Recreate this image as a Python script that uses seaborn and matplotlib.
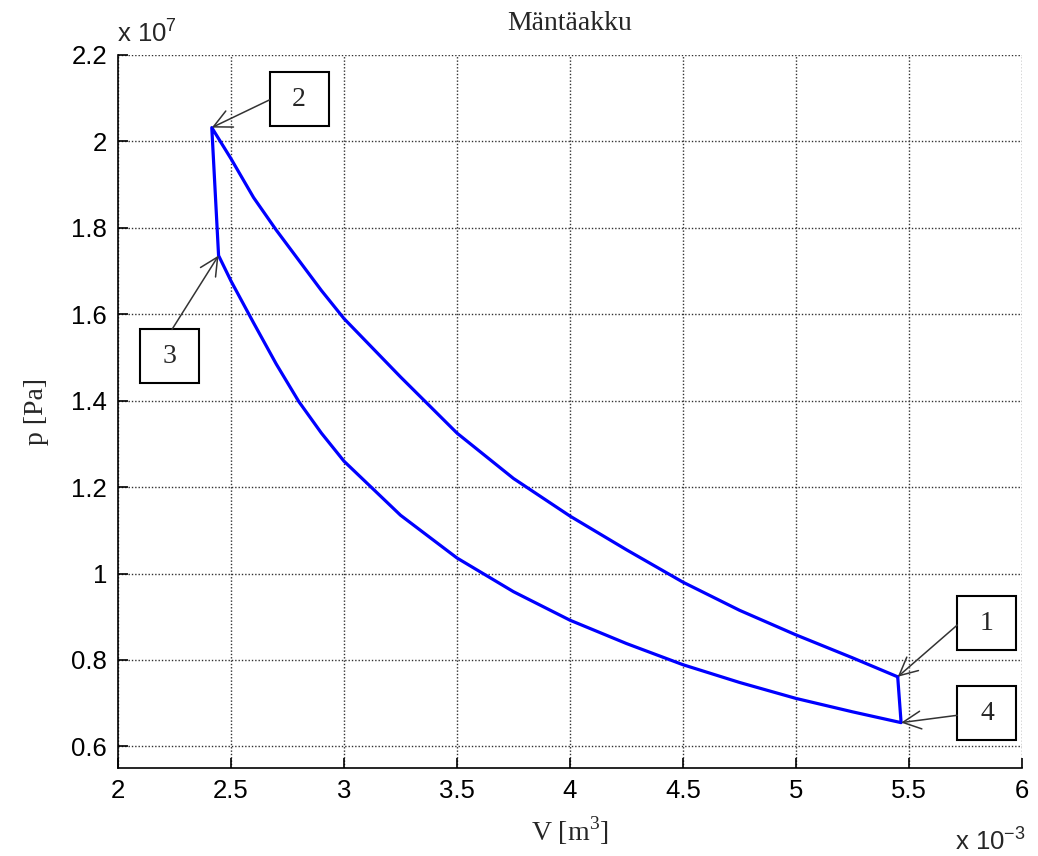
import matplotlib
matplotlib.use("Agg")
import matplotlib.pyplot as plt
from matplotlib.patches import Rectangle
import seaborn as sns
import pandas as pd

# V in 1e-3 m^3, p in 1e7 Pa
upper_v = [2.415, 2.5, 2.6, 2.7, 2.8, 2.9, 3.0, 3.25, 3.5, 3.75, 4.0, 4.25, 4.5, 4.75, 5.0, 5.25, 5.45]
upper_p = [2.032, 1.96, 1.87, 1.795, 1.725, 1.655, 1.59, 1.455, 1.325, 1.22, 1.133, 1.055, 0.98,
           0.915, 0.858, 0.805, 0.761]
lower_v = [2.445, 2.5, 2.6, 2.7, 2.8, 2.9, 3.0, 3.25, 3.5, 3.75, 4.0, 4.25, 4.5, 4.75, 5.0, 5.25, 5.465]
lower_p = [1.736, 1.677, 1.58, 1.485, 1.398, 1.325, 1.26, 1.135, 1.036, 0.958, 0.892, 0.838, 0.789,
           0.748, 0.711, 0.68, 0.655]

state_labels = ["1", "2", "3", "4"]
x_ticks = [2, 2.5, 3, 3.5, 4, 4.5, 5, 5.5, 6]
y_ticks = [0.6, 0.8, 1, 1.2, 1.4, 1.6, 1.8, 2, 2.2]

# closed cycle 1 -> 2 -> 3 -> 4 -> 1
loop_v = upper_v[::-1] + lower_v + [upper_v[-1]]
loop_p = upper_p[::-1] + lower_p + [upper_p[-1]]
df = pd.DataFrame({"V": loop_v, "p": loop_p, "step": range(len(loop_v))})

corners = {
    "1": (upper_v[-1], upper_p[-1]),
    "2": (upper_v[0], upper_p[0]),
    "3": (lower_v[0], lower_p[0]),
    "4": (lower_v[-1], lower_p[-1]),
}
# box centres and arrow start points (layout)
box_pos = {"1": (5.845, 0.885), "2": (2.801, 2.098), "3": (2.230, 1.503), "4": (5.845, 0.677)}
arrow_from = {"1": (5.714, 0.881), "2": (2.670, 2.096), "3": (2.239, 1.565), "4": (5.714, 0.672)}
box_w, box_h = 0.261, 0.125

sns.set_style("white")
plt.rcParams["font.family"] = ["Liberation Sans", "DejaVu Sans"]
plt.rcParams["mathtext.fontset"] = "custom"
plt.rcParams["mathtext.rm"] = "Liberation Serif"

fig = plt.figure(figsize=(10.38, 8.56), dpi=100)
ax = fig.add_axes([118 / 1038, 1 - 768 / 856, (1022 - 118) / 1038, (768 - 55) / 856])

sns.lineplot(data=df, x="V", y="p", sort=False, estimator=None, color="#0000ff",
             linewidth=2.3, ax=ax)

ax.set_xlim(2, 6)
ax.set_ylim(0.55, 2.2)
ax.set_xticks(x_ticks)
ax.set_yticks(y_ticks)
ax.set_xticklabels([f"{t:g}" for t in x_ticks])
ax.set_yticklabels([f"{t:g}" for t in y_ticks])
ax.tick_params(direction="in", length=7, width=1.2, labelsize=18.5, pad=8,
               colors="black", bottom=True, left=True)
ax.grid(True, color="#303030", linestyle=(0, (1, 1.4)), linewidth=1.0)
for side in ["top", "right"]:
    ax.spines[side].set_visible(False)
for side in ["left", "bottom"]:
    ax.spines[side].set_color("black")
    ax.spines[side].set_linewidth(1.2)

serif = ["Liberation Serif", "DejaVu Serif"]
ax.set_title("Mäntäakku", family=serif, fontsize=20, pad=18)
ax.set_xlabel(r"V [m$^{\mathregular{3}}$]", family=serif, fontsize=20, labelpad=8)
ax.set_ylabel("p [Pa]", family=serif, fontsize=20, labelpad=16)

fig.text(117 / 1038, 1 - 42 / 856, r"x 10$^{\mathregular{7}}$", fontsize=18.5, va="baseline")
fig.text(955 / 1038, 1 - 850 / 856, r"x 10$^{\mathregular{-3}}$", fontsize=18.5, va="baseline")

for lab in state_labels:
    cx, cy = box_pos[lab]
    ax.add_patch(Rectangle((cx - box_w / 2, cy - box_h / 2), box_w, box_h,
                           facecolor="white", edgecolor="black", linewidth=1.5,
                           clip_on=False, zorder=4))
    ax.text(cx, cy, lab, family=serif, fontsize=20, ha="center", va="center", zorder=5)
    ax.annotate("", xy=corners[lab], xytext=arrow_from[lab],
                arrowprops=dict(arrowstyle="->,head_length=0.65,head_width=0.32",
                                color="#333333", lw=1.1, mutation_scale=20,
                                shrinkA=0, shrinkB=0), zorder=6)

fig.savefig("out.png", dpi=100)
